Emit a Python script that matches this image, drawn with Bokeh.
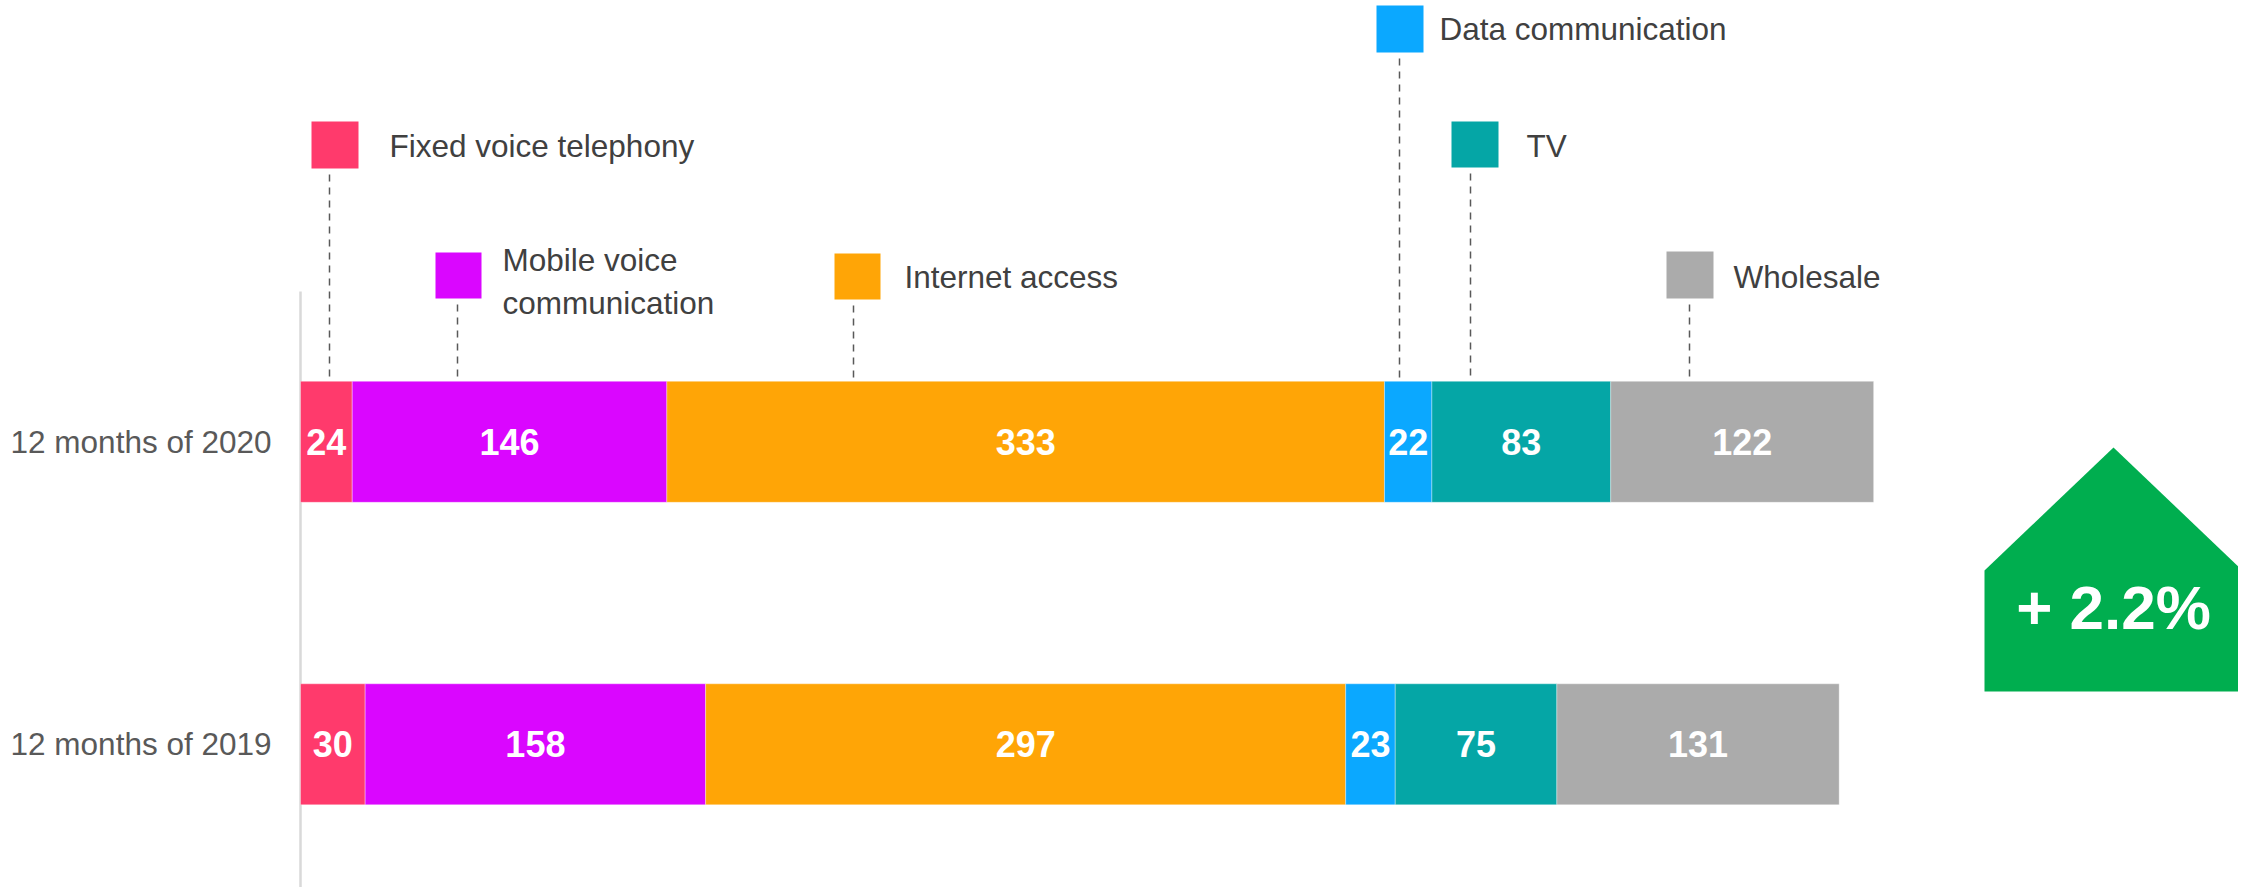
import numpy as np
from bokeh.plotting import figure
from bokeh.models import ColumnDataSource, Range1d, FixedTicker
from bokeh.core.properties import value
from bokeh.embed import file_html
from bokeh.resources import INLINE

# ---------------- data ----------------
years = ["12 months of 2019", "12 months of 2020"]
services = ["Fixed voice telephony", "Mobile voice\ncommunication", "Internet access",
            "Data communication", "TV", "Wholesale"]
values_2019 = [30, 158, 297, 23, 75, 131]
values_2020 = [24, 146, 333, 22, 83, 122]
colors = ["#FF3A6C", "#DA06FF", "#FFA506", "#0BA8FF", "#05A6A6", "#ABABAB"]

# ---------------- layout (reference pixel positions) ----------------
W, H = 2238, 887
OFF = 0                # figure origin in reference pixels
PPU = 2.155            # pixels per unit on the x scale
BORDER_L = 296 - OFF
FONT = value("Liberation Sans")

def fx(rx):
    return (rx - 300.0) / PPU

def fy(ry):
    return 1 + (441.3 - ry) / 302.5

# legend boxes: (left, top, right, bottom), leader x, leader top, label x, label y
legend_layout = [
    ((311, 121, 358, 168), 329, 174, 389, 145),
    ((435, 252, 481, 298), 457, 304, 502, 281),
    ((834, 253, 880, 299), 853, 305, 904, 276),
    ((1376, 5, 1423, 52), 1399, 58, 1439, 28),
    ((1451, 121, 1498, 167), 1470, 173, 1526, 145),
    ((1666, 251, 1713, 298), 1689, 304, 1733, 276),
]
BAR_TOP = 381

p = figure(width=W, height=H, output_backend="svg", toolbar_location=None,
           x_axis_location=None, y_axis_location="left",
           x_range=Range1d(-4 / PPU, -4 / PPU + (W - BORDER_L) / PPU),
           y_range=Range1d(fy(OFF + H), fy(OFF)),
           min_border_left=BORDER_L, min_border_right=0, min_border_top=0, min_border_bottom=0)
p.outline_line_color = None
p.grid.visible = False
p.background_fill_color = "white"
p.border_fill_color = "white"

# y axis with category labels
p.yaxis.ticker = FixedTicker(ticks=[0, 1])
p.yaxis.major_label_overrides = {0: years[0], 1: years[1]}
p.yaxis.axis_line_color = None
p.yaxis.major_tick_line_color = None
p.yaxis.minor_tick_line_color = None
p.yaxis.major_tick_out = 0
p.yaxis.major_tick_in = 0
p.yaxis.major_label_standoff = 25
p.yaxis.major_label_text_font = "Liberation Sans"
p.yaxis.major_label_text_font_size = "31.5px"
p.yaxis.major_label_text_color = "#595959"

# axis line (light gray)
p.segment(x0=[0], y0=[fy(291)], x1=[0], y1=[fy(900)], line_color="#D9D9D9", line_width=2.5)

# stacked bars
for yi, vals in enumerate([values_2019, values_2020]):
    vals = np.array(vals)
    right = np.cumsum(vals)
    left = right - vals
    src = ColumnDataSource(dict(y=[yi] * len(vals), left=left, right=right, color=colors,
                                mid=(left + right) / 2, label=[str(v) for v in vals]))
    p.hbar(y="y", left="left", right="right", height=0.4, fill_color="color", source=src,
           line_color="white", line_alpha=0.35, line_width=1)
    p.text(x="mid", y="y", text="label", source=src, text_color="white",
           text_font=FONT, text_font_style="bold", text_font_size="36px",
           text_align="center", text_baseline="middle")

# legend boxes, leader lines, labels
for (box, lx, ltop, tx, ty), name, col in zip(legend_layout, services, colors):
    l, t, r, b = box
    p.quad(left=[fx(l)], right=[fx(r)], top=[fy(t)], bottom=[fy(b)],
           fill_color=col, line_color=None)
    p.segment(x0=[fx(lx)], y0=[fy(ltop)], x1=[fx(lx)], y1=[fy(BAR_TOP)],
              line_color="#595959", line_width=1.5, line_dash="7 6")
    p.text(x=[fx(tx)], y=[fy(ty)], text=[name], text_color="#404040",
           text_font=FONT, text_font_size="31.5px", text_align="left",
           text_baseline="middle", text_line_height=1.2)

# growth arrow
change = (sum(values_2020) - sum(values_2019)) / sum(values_2019) * 100
arrow_x = [fx(v) for v in (1984, 1984, 2113, 2242, 2242)]
arrow_y = [fy(v) for v in (691, 570, 447, 570, 691)]
p.patch(x=arrow_x, y=arrow_y, fill_color="#00AE4F", line_color=None)
p.text(x=[fx(2113)], y=[fy(607)], text=[f"+ {change:.1f}%"], text_color="white",
       text_font=FONT, text_font_style="bold", text_font_size="62px",
       text_align="center", text_baseline="middle")

open("out.html", "w").write(file_html(p, INLINE))
